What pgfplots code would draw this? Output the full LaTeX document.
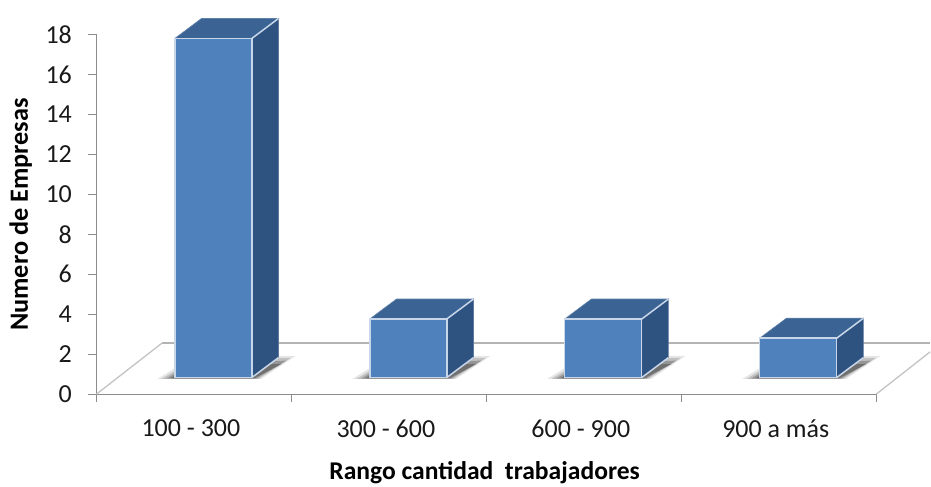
\documentclass[border=0pt]{standalone}
\usepackage{fontspec}
\setmainfont{Carlito}
\usepackage{pgfplots}
\pgfplotsset{compat=1.18}
\definecolor{barfront}{HTML}{4F81BD}
\definecolor{barside}{HTML}{2F5380}
\definecolor{bartop}{HTML}{3B6494}
\definecolor{baredge}{HTML}{C8D6EA}
\definecolor{axisgray}{HTML}{8C8C8C}
\definecolor{floorgray}{HTML}{B4B4B4}

% One box: left, right, left at depth, right at depth, base, top, top at depth
\newcommand{\boxbar}[7]{%
  \addplot[fill=barside,draw=barside!70!baredge,line width=0.6pt] coordinates
    {(#2,#5) (#4,1.83) (#4,#7) (#2,#6) (#2,#5)};
  \addplot[fill=bartop,draw=bartop!75!baredge,line width=0.6pt] coordinates
    {(#1,#6) (#3,#7) (#4,#7) (#2,#6) (#1,#6)};
  \addplot[fill=barfront,draw=baredge,line width=1.5pt] coordinates
    {(#1,#5) (#2,#5) (#2,#6) (#1,#6) (#1,#5)};
  \addplot[draw=baredge,line width=1.5pt] coordinates {(#2,#6) (#4,#7)};
  \addplot[draw=baredge,line width=1.5pt] coordinates {(#2,#5) (#4,1.83)};
}

\begin{document}
\begin{tikzpicture}
\begin{axis}[
  at={(0pt,0pt)}, anchor=south west,
  scale only axis, width=780.5pt, height=360pt,
  xmin=0, xmax=4, ymin=0, ymax=18,
  clip=false,
  axis lines=left,
  axis line style={-,color=axisgray,line width=1.3pt},
  tick style={color=axisgray,line width=1.1pt},
  tick align=outside,
  major tick length=8pt,
  xtick={0,1,2,3,4},
  x tick label as interval,
  xticklabels={100 - 300,300 - 600,600 - 900,900 a más},
  ytick={0,2,...,18},
  /pgf/number format/assume math mode=true,
  tick label style={font=\fontsize{26}{28}\selectfont,color=black!90},
  x tick label style={yshift=-14pt,xshift=-3pt},
  y tick label style={xshift=-13pt},
  xlabel={\textbf{Rango cantidad\ \ trabajadores}},
  ylabel={\textbf{Numero de Empresas}},
  xlabel style={font=\fontsize{25.6}{28}\selectfont,at={(axis description cs:0.4978,-0.217)},anchor=center},
  ylabel style={font=\fontsize{26.3}{28}\selectfont,at={(axis description cs:-0.097,0.4995)},anchor=center},
]
% Floor of the plot area
\addplot[draw=floorgray!80,line width=1.3pt] coordinates {(0,0) (0.3357,2.55)};
\addplot[draw=floorgray,line width=1.6pt] coordinates {(0.3357,2.55) (4.2767,2.55)};
\addplot[draw=floorgray!80,line width=1.3pt] coordinates {(4,0) (4.2767,2.12)};

% Soft shadows on the floor, built up in layers
\pgfplotsinvokeforeach{0,1,2,3}{
  \addplot[fill=black,draw=none,opacity=0.10,x filter/.expression={x+#1}] coordinates
    {(0.312,0.76) (0.845,0.76) (1.022,1.92) (0.90,1.92) (0.402,1.30)};
  \addplot[fill=black,draw=none,opacity=0.16,x filter/.expression={x+#1}] coordinates
    {(0.335,0.77) (0.832,0.77) (0.998,1.82) (0.90,1.80) (0.402,1.16)};
  \addplot[fill=black,draw=none,opacity=0.22,x filter/.expression={x+#1}] coordinates
    {(0.358,0.78) (0.820,0.78) (0.975,1.68) (0.90,1.65) (0.402,1.04)};
  \addplot[fill=black,draw=none,opacity=0.26,x filter/.expression={x+#1}] coordinates
    {(0.380,0.79) (0.808,0.79) (0.952,1.52) (0.90,1.50) (0.402,0.94)};
}

% Bars
\boxbar{0.402}{0.797}{0.539}{0.934}{0.83}{17.80}{18.80}
\boxbar{1.402}{1.797}{1.539}{1.934}{0.83}{3.76}{4.76}
\boxbar{2.402}{2.797}{2.539}{2.934}{0.83}{3.76}{4.76}
\boxbar{3.402}{3.797}{3.539}{3.934}{0.83}{2.80}{3.80}
\end{axis}
\useasboundingbox (-96.5pt,-90.5pt) rectangle (834.5pt,394.5pt);
\end{tikzpicture}
\end{document}
